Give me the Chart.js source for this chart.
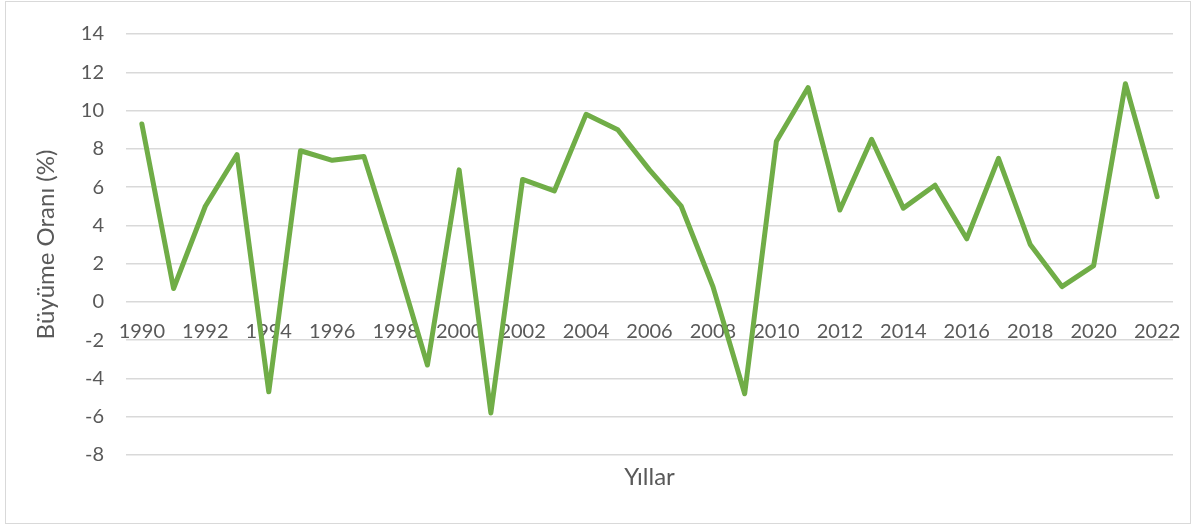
<!DOCTYPE html>
<html>
<head>
<meta charset="utf-8">
<script src="https://cdn.jsdelivr.net/npm/chart.js@4/dist/chart.umd.min.js"></script>
<style>
  html, body { margin: 0; padding: 0; background: #fff; }
  #wrap { width: 1200px; height: 527px; position: relative; }
</style>
</head>
<body>
<div id="wrap"><canvas id="myChart" width="1200" height="527"></canvas></div>
<script>
const years = ['1990','1991','1992','1993','1994','1995','1996','1997','1998','1999','2000',
  '2001','2002','2003','2004','2005','2006','2007','2008','2009','2010','2011','2012',
  '2013','2014','2015','2016','2017','2018','2019','2020','2021','2022'];
const growth = [9.3, 0.7, 5.0, 7.7, -4.7, 7.9, 7.4, 7.6, 2.3, -3.3, 6.9,
  -5.8, 6.4, 5.8, 9.8, 9.0, 6.9, 5.0, 0.8, -4.8, 8.4, 11.2, 4.8,
  8.5, 4.9, 6.1, 3.3, 7.5, 3.0, 0.8, 1.9, 11.4, 5.5];
const yMin = -8, yMax = 14, yStep = 2;
const xTitle = 'Yıllar';
const yTitle = 'Büyüme Oranı (%)';

const textColor = '#595959';
const fontFamily = 'Lato, "Open Sans", sans-serif';

// frame + axis titles
const extras = {
  id: 'extras',
  beforeDraw(chart) {
    const ctx = chart.ctx;
    ctx.save();
    ctx.strokeStyle = '#d9d9d9';
    ctx.lineWidth = 1;
    ctx.strokeRect(5.5, 1.5, 1185, 522);
    ctx.restore();
  },
  afterDraw(chart) {
    const ctx = chart.ctx;
    const area = chart.chartArea;
    ctx.save();
    ctx.fillStyle = textColor;
    ctx.font = '24px ' + fontFamily;
    ctx.textAlign = 'center';
    ctx.textBaseline = 'middle';
    ctx.fillText(xTitle, (area.left + area.right) / 2, 477);
    ctx.translate(46, (area.top + area.bottom) / 2);
    ctx.rotate(-Math.PI / 2);
    ctx.fillText(yTitle, 0, 0);
    ctx.restore();
  }
};

const ctx = document.getElementById('myChart').getContext('2d');
new Chart(ctx, {
  type: 'line',
  data: {
    labels: years,
    datasets: [{
      label: yTitle,
      data: growth,
      borderColor: '#70ad47',
      backgroundColor: '#70ad47',
      borderWidth: 5,
      pointRadius: 0,
      tension: 0,
      borderJoinStyle: 'round',
      borderCapStyle: 'round'
    }]
  },
  options: {
    responsive: false,
    animation: false,
    layout: { padding: { left: 0, right: 27, top: 29, bottom: 72 } },
    plugins: { legend: { display: false }, tooltip: { enabled: false } },
    scales: {
      x: {
        position: { y: 0 },
        offset: true,
        grid: { display: false, drawTicks: false },
        border: { display: false },
        ticks: {
          autoSkip: false,
          maxRotation: 0,
          padding: 18,
          color: textColor,
          font: { size: 20, family: fontFamily },
          callback: function(val, i) { return i % 2 === 0 ? this.getLabelForValue(val) : ''; }
        }
      },
      y: {
        min: yMin,
        max: yMax,
        afterFit(scale) { scale.width = 126; },
        grid: { color: '#d9d9d9', lineWidth: 1.5, drawTicks: false },
        border: { display: false },
        ticks: {
          stepSize: yStep,
          padding: 22,
          color: textColor,
          font: { size: 20, family: fontFamily }
        }
      }
    }
  },
  plugins: [extras]
});
</script>
</body>
</html>
